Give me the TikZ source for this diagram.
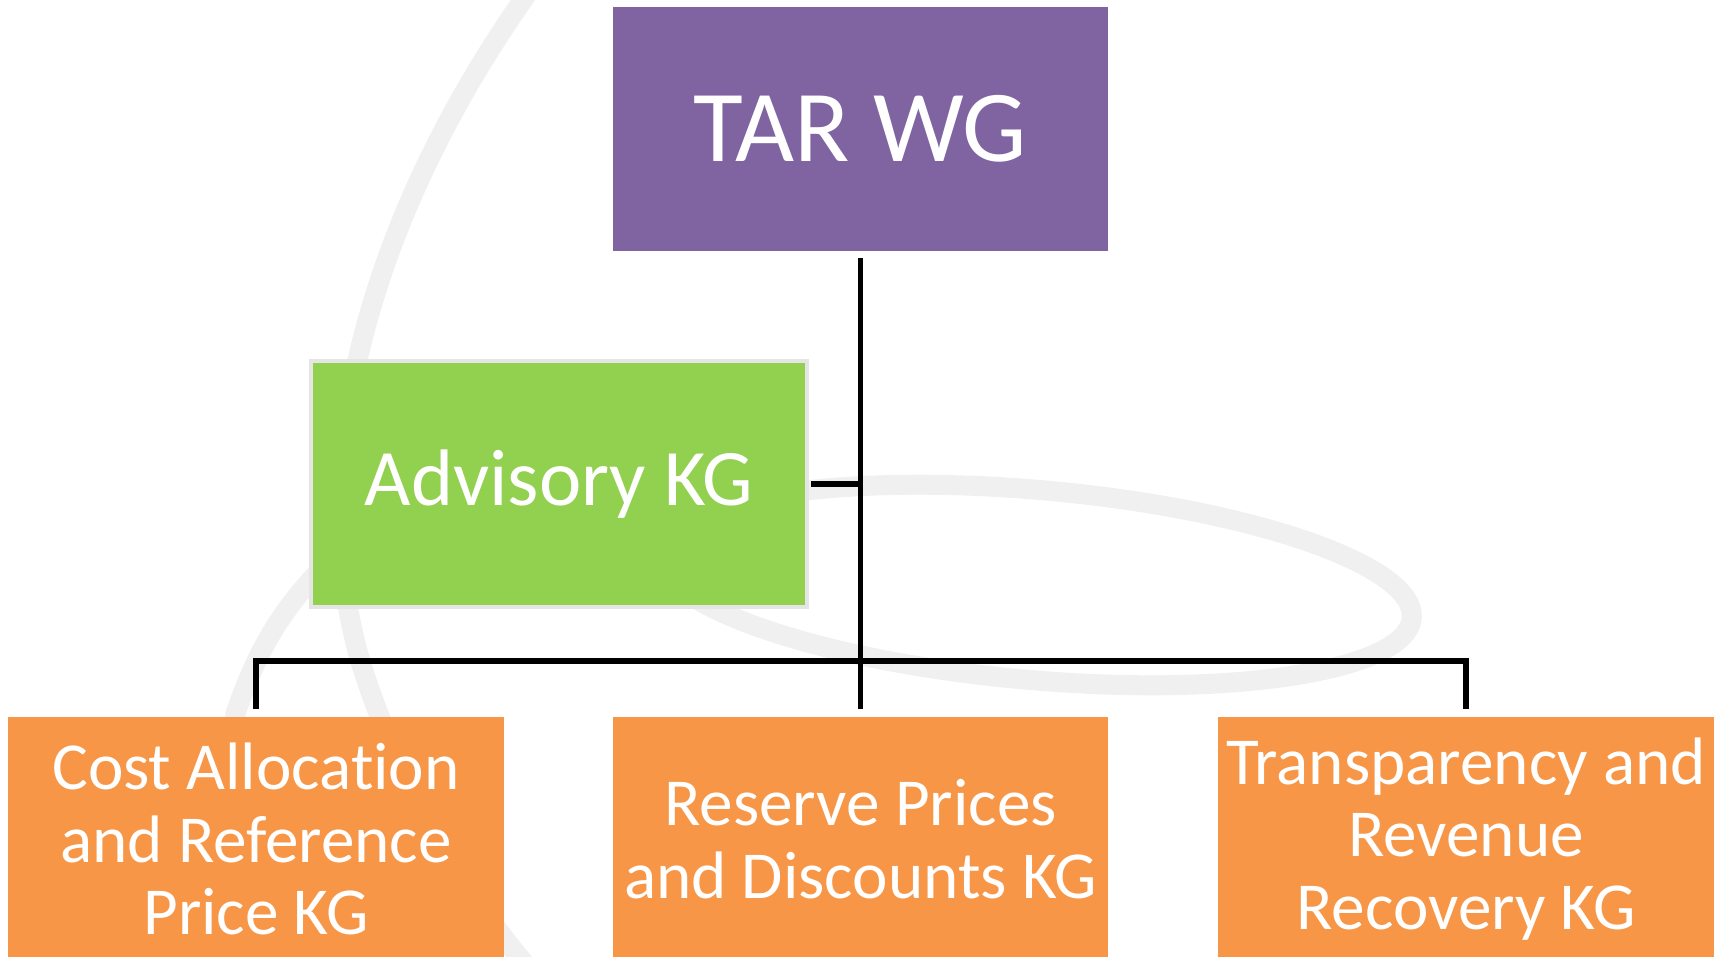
\documentclass[tikz,border=0pt]{standalone}
\usepackage{fontspec}
\setmainfont{Carlito}[Ligatures=NoCommon]
\usepackage{xcolor}
\usetikzlibrary{positioning}
\definecolor{wgpurple}{HTML}{8064A2}
\definecolor{kggreen}{HTML}{92D050}
\definecolor{kgorange}{HTML}{F79646}

\begin{document}
\begin{tikzpicture}[x=0.01cm,y=-0.01cm,
		box/.style={inner sep=0pt,minimum width=4.95cm,minimum height=2.44cm,text=white,align=center},
		conn/.style={draw=black,line width=1.5pt},
		swirl/.style={draw=black!6,line width=0.2cm,line cap=round}]
		\useasboundingbox (0,0) rectangle (1717,957);
		% watermark
		\draw[swirl] (530,-10) .. controls (380,200) and (300,450) .. (360,660) .. controls (400,790) and (470,900) .. (530,970);
		\draw[swirl] (235,715) .. controls (260,640) and (290,600) .. (330,560);
		\draw[swirl] (1035,585) ellipse [x radius=3.78cm,y radius=0.95cm,rotate=-5];
		%
		\node[box,fill=wgpurple,font=\fontsize{29}{35}\selectfont] (W) at (860.5,129) {TAR WG};
		\node[box,fill=kggreen,draw=black!10,line width=1.2pt,minimum width=4.96cm,minimum height=2.46cm,
			font=\fontsize{22.8}{27}\selectfont] (K) at (559,484) {Advisory KG};
		\node[box,fill=kgorange,font=\fontsize{19.1}{20.6}\selectfont] (G) at (256,839) {Cost Allocation\\and Reference\\Price KG};
		\node[box,fill=kgorange,font=\fontsize{19.1}{20.6}\selectfont] (G') at (860.5,839) {Reserve Prices\\and Discounts KG};
		\node[box,fill=kgorange,font=\fontsize{19.1}{20.6}\selectfont] (G'') at (1466,839) {Transparency and\\Revenue\\Recovery KG};
		\coordinate (bar) at (861,661);
		%
		% connectors
		\draw[conn,shorten <=0.07cm,shorten >=0.06cm] (G'.north) -- (W.south);
		\draw[conn,shorten <=0.07cm,shorten >=0.07cm] (G.north) |- (bar) -| (G''.north);
		\draw[conn,shorten <=0.02cm] (K.east) -- (K.east -| W.south);
\end{tikzpicture}
\end{document}
